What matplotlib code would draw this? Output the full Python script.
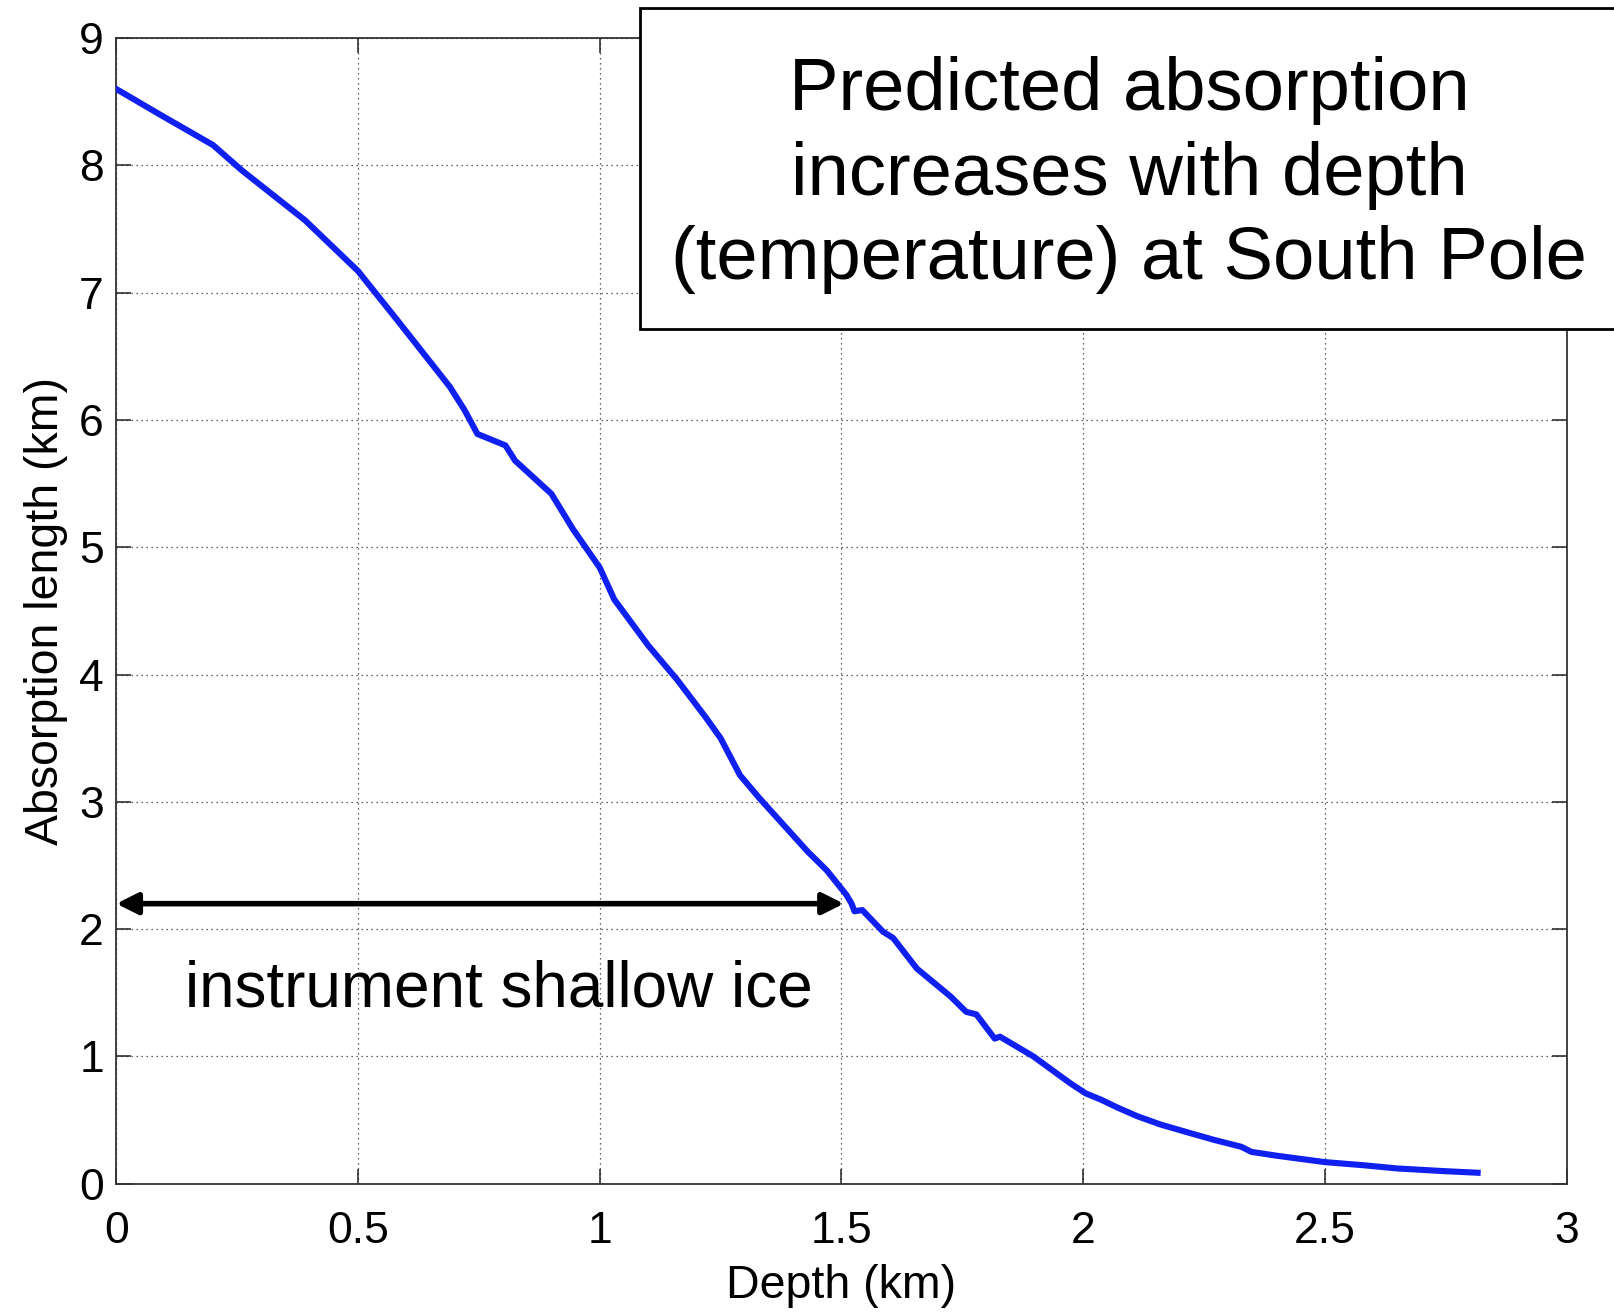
import matplotlib
matplotlib.use("Agg")
import matplotlib.pyplot as plt
from matplotlib.patches import Rectangle

plt.rcParams['font.family'] = ['Liberation Sans', 'DejaVu Sans']

depth_km = [0.0, 0.09, 0.2, 0.26, 0.39, 0.5, 0.58, 0.69, 0.72, 0.747, 0.805, 0.825,
            0.9, 0.945, 1.0, 1.03, 1.1, 1.16, 1.22, 1.25, 1.29, 1.33, 1.43, 1.47, 1.51, 1.521,
            1.527, 1.543, 1.586, 1.607, 1.656, 1.726, 1.758, 1.779, 1.817, 1.828,
            1.897, 1.973, 2.005, 2.037, 2.07, 2.112, 2.16, 2.219, 2.27, 2.327, 2.348,
            2.4, 2.499, 2.58, 2.649, 2.74, 2.816]
absorption_km = [8.6, 8.4, 8.16, 7.96, 7.57, 7.17, 6.79, 6.26, 6.08, 5.89, 5.80, 5.68,
                 5.42, 5.14, 4.84, 4.59, 4.23, 3.96, 3.66, 3.50, 3.21, 3.03, 2.61, 2.46, 2.27, 2.20,
                 2.14, 2.15, 1.98, 1.93, 1.69, 1.47, 1.35, 1.33, 1.14, 1.155,
                 1.00, 0.79, 0.71, 0.66, 0.60, 0.53, 0.465, 0.40, 0.345, 0.29, 0.25,
                 0.22, 0.17, 0.145, 0.12, 0.10, 0.086]

x_ticks = [0, 0.5, 1, 1.5, 2, 2.5, 3]
x_ticklabels = ['0', '0.5', '1', '1.5', '2', '2.5', '3']
y_ticks = [0, 1, 2, 3, 4, 5, 6, 7, 8, 9]
y_ticklabels = ['0', '1', '2', '3', '4', '5', '6', '7', '8', '9']

arrow_start = (0.0, 2.2)
arrow_end = (1.505, 2.2)
arrow_label = "instrument shallow ice"
box_text = "Predicted absorption\nincreases with depth\n(temperature) at South Pole"

W, H = 1614, 1316
fig = plt.figure(figsize=(W / 100, H / 100), dpi=100)
ax = fig.add_axes([116.3 / W, 1 - 1183.7 / H, (1566.6 - 116.3) / W, (1183.7 - 38.1) / H])

ax.plot(depth_km, absorption_km, color='#1020f0', lw=4.4, solid_joinstyle='round', zorder=3)

ax.set_xlim(0, 3)
ax.set_ylim(0, 9)
ax.set_xticks(x_ticks)
ax.set_xticklabels(x_ticklabels)
ax.set_yticks(y_ticks)
ax.set_yticklabels(y_ticklabels)
ax.tick_params(axis='both', direction='in', length=10.5, width=1.1, colors='#222222',
               labelcolor='black', labelsize=32, top=True, right=True)
ax.tick_params(axis='x', pad=20)
ax.tick_params(axis='y', pad=9)
ax.grid(True, linestyle=(0, (1, 3)), color='#333333', lw=0.9)
for s in ax.spines.values():
    s.set_linewidth(1.3)
    s.set_color('#333333')

ax.set_xlabel('Depth (km)', fontsize=33.5, labelpad=8)
ax.set_ylabel('Absorption length (km)', fontsize=33.5, labelpad=8)

ax.annotate('', xy=arrow_end, xytext=arrow_start,
            arrowprops=dict(arrowstyle='<|-|>', color='black', lw=4.0,
                            mutation_scale=32, shrinkA=0, shrinkB=0), zorder=4)
ax.text(0.143, 1.39, arrow_label, fontsize=46, ha='left', va='baseline', color='black')

rect = Rectangle((640 / W, 1 - 329 / H), (W + 20 - 640) / W, (329 - 8) / H,
                 transform=fig.transFigure, facecolor='white', edgecolor='black',
                 lw=2.0, zorder=10, clip_on=False)
fig.add_artist(rect)
t = fig.text(1129 / W, 1 - 175 / H, box_text, ha='center', va='center', fontsize=53.5,
             linespacing=1.28, color='black', zorder=11)

fig.savefig('out.png', dpi=100)
